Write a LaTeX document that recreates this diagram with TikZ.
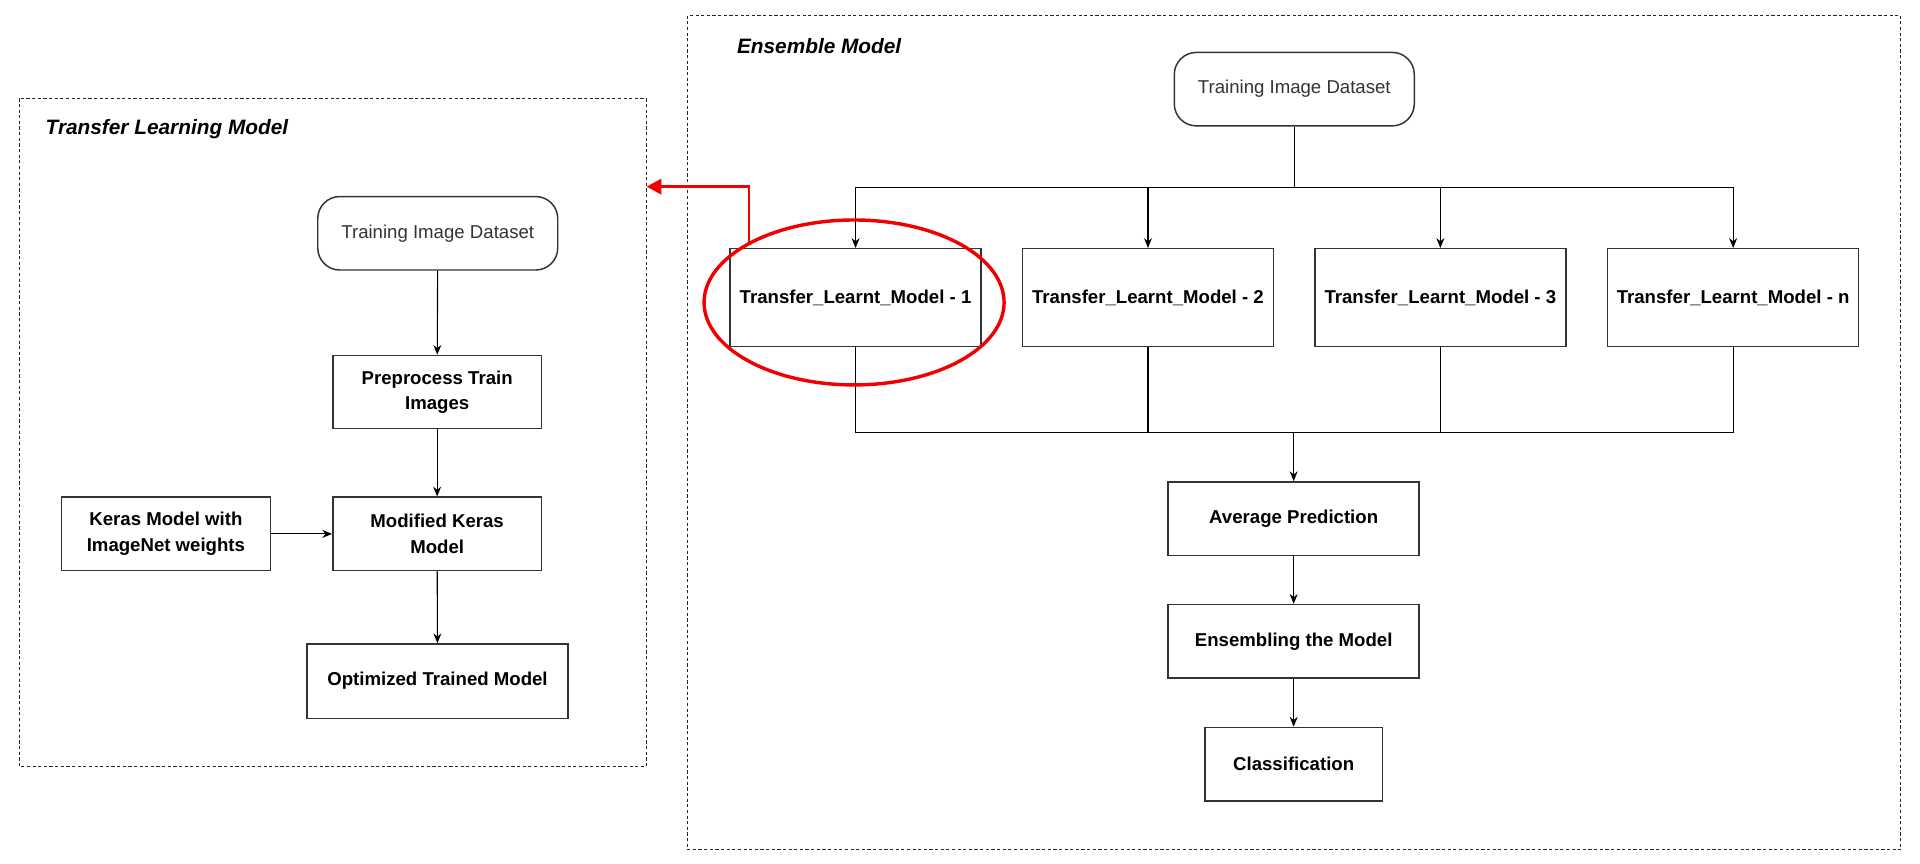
\documentclass[tikz,border=0pt]{standalone}
\usepackage{fontspec}
\setmainfont{Liberation Sans}
\usetikzlibrary{shapes.geometric,arrows.meta}
\definecolor{boxline}{HTML}{333333}
\definecolor{tidtext}{HTML}{333333}
\definecolor{redmark}{HTML}{F00000}
\tikzset{
  frame/.style={draw=black!85, line width=0.8pt, dash pattern=on 2.6pt off 2pt},
  stepbox/.style={draw=boxline, line width=1.2pt, rectangle, inner sep=0pt,
    align=center, font=\fontsize{15.2}{21}\selectfont\bfseries},
  tidbox/.style={draw=boxline, line width=1.2pt, rectangle, rounded corners=18pt,
    inner sep=0pt, minimum width=196pt, minimum height=60pt, align=center,
    text=tidtext, font=\fontsize{15.2}{21}\selectfont},
  title/.style={anchor=west, inner sep=0pt, font=\fontsize{17}{20}\selectfont\bfseries\itshape},
  conn/.style={draw=black, line width=0.9pt},
  arr/.style={conn, -{Stealth[length=8pt,width=6.5pt]}},
  redarr/.style={draw=redmark, line width=2.3pt, -{Triangle[length=12pt,width=12.5pt]}},
}
\begin{document}
\begin{tikzpicture}[x=1pt,y=-1pt]
\useasboundingbox (0,0) rectangle (1568,705);
\fill[white] (0,0) rectangle (1568,705);

% ---------------- Transfer Learning Model ----------------
\draw[frame] (15.8,80.3) rectangle (527.6,626.1);
\node[title] (tltitle) at (37.1,105.4) {Transfer Learning Model};
\node[tidbox] (tidL) at (357.5,190.5) {Training Image Dataset};
\node[stepbox, minimum width=170.4pt, minimum height=59.8pt] (pre) at (357,320.2) {Preprocess Train\\Images};
\node[stepbox, minimum width=170.4pt, minimum height=60pt] (keras) at (135.5,436) {Keras Model with\\ImageNet weights};
\node[stepbox, minimum width=170.4pt, minimum height=60pt] (mod) at (357,436) {Modified Keras\\Model};
\node[stepbox, minimum width=213.4pt, minimum height=60.7pt] (opt) at (357.3,556.2) {Optimized Trained Model};

\draw[arr] (tidL) -- (pre);
\draw[arr] (pre) -- (mod);
\draw[arr] (keras) -- (mod);
\draw[arr] (mod) -- (opt);

% ---------------- Ensemble Model ----------------
\draw[frame] (561.6,12.8) rectangle (1552.4,694);
\node[title] (emtitle) at (601.7,37.3) {Ensemble Model};
\node[tidbox] (tidR) at (1057,72.8) {Training Image Dataset};

\node[stepbox, minimum width=205pt, minimum height=80pt] (m1) at (698.7,243.1) {Transfer\_Learnt\_Model - 1};
\node[stepbox, minimum width=205pt, minimum height=80pt] (m2) at (937.5,243.1) {Transfer\_Learnt\_Model - 2};
\node[stepbox, minimum width=205pt, minimum height=80pt] (m3) at (1176.3,243.1) {Transfer\_Learnt\_Model - 3};
\node[stepbox, minimum width=205pt, minimum height=80pt] (mn) at (1415.4,243.1) {Transfer\_Learnt\_Model - n};

\node[stepbox, minimum width=205pt, minimum height=60pt] (avg) at (1056.5,423.5) {Average Prediction};
\node[stepbox, minimum width=205pt, minimum height=60pt] (ens) at (1056.5,523.7) {Ensembling the Model};
\node[stepbox, minimum width=145pt, minimum height=60pt] (cls) at (1056.5,624) {Classification};

\coordinate (jt) at (1057,153);
\coordinate (jb) at (1056.5,353.3);

\draw[conn] (tidR) -- (jt);
\draw[arr] (jt) -| (m1.north);
\draw[arr] (jt) -| (m2.north);
\draw[arr] (jt) -| (m3.north);
\draw[arr] (jt) -| (mn.north);

\draw[conn] (m1.south) |- (jb);
\draw[conn] (m2.south) |- (jb);
\draw[conn] (m3.south) |- (jb);
\draw[conn] (mn.south) |- (jb);
\draw[arr] (jb) -- (avg);
\draw[arr] (avg) -- (ens);
\draw[arr] (ens) -- (cls);

% ---------------- red highlight ----------------
\node[draw=redmark, line width=2.8pt, ellipse, inner sep=0pt,
      minimum width=245pt, minimum height=134.7pt] (ell) at (697.5,247) {};
\coordinate (redtip) at (528.1,152.4);
\draw[redarr] (ell.150.7) |- (redtip);
\end{tikzpicture}
\end{document}
